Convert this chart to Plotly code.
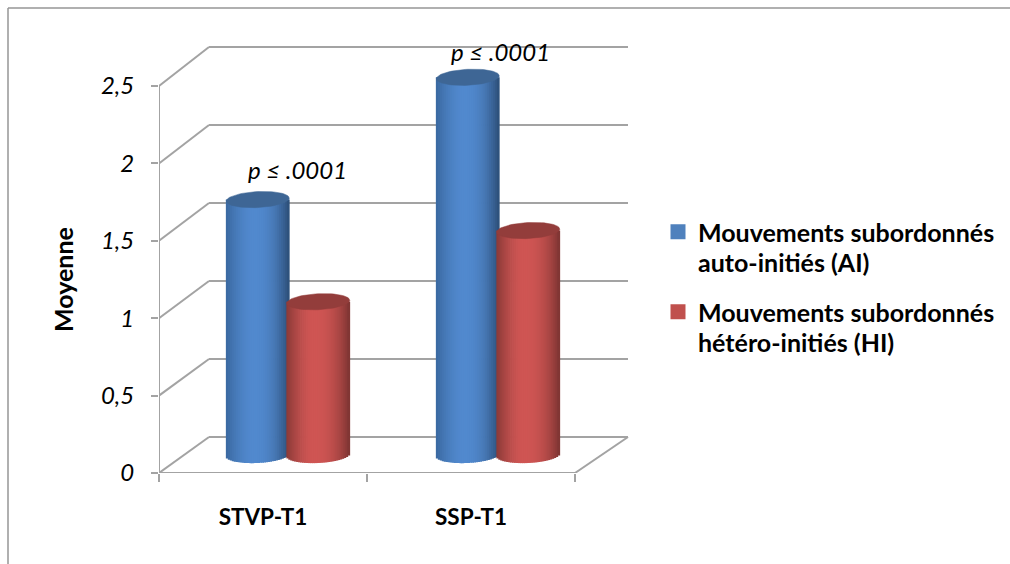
import math
import plotly.graph_objects as go

# ---- data ----
categories = ["STVP-T1", "SSP-T1"]
series_ai = [1.65, 2.44]
series_hi = [0.99, 1.45]
name_ai = ["Mouvements subordonnés", "auto-initiés (AI)"]
name_hi = ["Mouvements subordonnés", "hétéro-initiés (HI)"]
y_ticks = [0, 0.5, 1, 1.5, 2, 2.5]
y_labels = ["0", "0,5", "1", "1,5", "2", "2,5"]
p_text = ["p ≤ .0001", "p ≤ .0001"]

# ---- geometry of the pseudo-3D box, in pixels ----
W, H = 1010, 564
L, R, T, B = 159, 630, 45, 473
PX_X = 208.0          # pixels per category
PX_Y = 154.8          # pixels per unit of value
DX = 50 / PX_X        # depth shift in x data units
DX_R = 53 / PX_X      # the right-hand end of the box recedes slightly further
DY = 36 / PX_Y        # depth shift in y data units
BACK_SCALE = 78 / 77.4
BAR_W = 63 / PX_X
BAR_OFF = 60.5 / PX_X / 2
RX = BAR_W / 2
RY = 8 / PX_Y
TILT = 1.5 / PX_Y
N_STRIPS = 32
GRID = "#a3a3a3"
FONT = "Lato, sans-serif"


def lerp_hex(a, b, t):
    ca = [int(a[i:i + 2], 16) for i in (1, 3, 5)]
    cb = [int(b[i:i + 2], 16) for i in (1, 3, 5)]
    return "#" + "".join(f"{round(x + (y - x) * t):02x}" for x, y in zip(ca, cb))


def shade(u, left, mid, right):
    c = -0.1
    if u < c:
        t = (u + 1) / (c + 1)
        return lerp_hex(left, mid, math.sin(t * math.pi / 2))
    t = (u - c) / (1 - c)
    return lerp_hex(mid, right, t ** 2.2)


fig = go.Figure()
cat_pos = [i + 0.5 for i in range(len(categories))]
# perspective spreads the cylinders a little more than the axis ticks
bar_pos = [c + DX / 2 + s for c, s in zip(cat_pos, (0, 2 / PX_X))]


def cylinder(values, sign, left, mid, right, cap):
    for k in range(N_STRIPS):
        u = -1 + (k + 0.5) * 2 / N_STRIPS
        xs = [c + sign * BAR_OFF + u * RX for c in bar_pos]
        bottom = DY / 2 - RY * math.sqrt(1 - u * u) + TILT * u
        fig.add_trace(go.Bar(
            x=xs, y=[v + DY / 2 - bottom for v in values], base=bottom,
            width=BAR_W / N_STRIPS * 1.4,
            marker=dict(color=shade(u, left, mid, right), line=dict(width=0)),
            showlegend=False, hoverinfo="skip"))
    for c, v in zip(bar_pos, values):
        cx = c + sign * BAR_OFF
        cy = v + DY / 2
        ts = [i * 2 * math.pi / 72 for i in range(73)]
        fig.add_trace(go.Scatter(
            x=[cx + RX * math.cos(t) for t in ts],
            y=[cy + RY * math.sin(t) + TILT * math.cos(t) for t in ts],
            mode="lines", fill="toself", fillcolor=cap,
            line=dict(width=0.5, color=cap), showlegend=False, hoverinfo="skip"))


cylinder(series_ai, -1, "#3a689f", "#5189ce", "#2c4e78", "#3e6695")
cylinder(series_hi, +1, "#8a3a38", "#cf5553", "#7c3432", "#933d3b")


# outer frame and legend positions, given in page pixels
def pgx(px):
    return (px - L) / (R - L)


def pgy(py):
    return (B - py) / (B - T)


# legend: one small legend per text line, so the swatch stays on the first line
legend_layout = {}
legend_lines = ((name_ai[0], "#4f81bd", 232), (name_ai[1], "rgba(255,255,255,0)", 262),
                (name_hi[0], "#c0504d", 312), (name_hi[1], "rgba(255,255,255,0)", 342))
for i, (nm, col, line_y) in enumerate(legend_lines):
    key = "legend" if i == 0 else f"legend{i + 1}"
    fig.add_trace(go.Scatter(x=[None], y=[None], mode="markers", name=nm, legend=key,
                             showlegend=True,
                             marker=dict(symbol="square", size=15, color=col,
                                         line=dict(width=0))))
    legend_layout[key] = dict(x=pgx(658), xanchor="left", y=pgy(line_y), yanchor="middle",
                              font=dict(size=25, weight="bold", color="black"),
                              itemwidth=30, bgcolor="rgba(0,0,0,0)")

# ---- box: back wall, side wall, floor ----
shapes = []


def seg(x0, y0, x1, y1, color=GRID, width=2):
    shapes.append(dict(type="line", xref="x", yref="y", x0=x0, y0=y0, x1=x1, y1=y1,
                       layer="below", line=dict(color=color, width=width)))


n = len(categories)
for v in y_ticks:
    back = v * BACK_SCALE + DY
    seg(0, v, DX, back)
    seg(DX, back, n + DX_R, back)
seg(0, 0, 0, y_ticks[-1])
seg(0, 0, n, 0)
seg(n, 0, n + DX_R, DY)

for x0, y0, x1, y1 in ((8, 8, W, 8), (8, 8, 8, H)):
    shapes.append(dict(type="line", xref="paper", yref="paper",
                       x0=pgx(x0), y0=pgy(y0), x1=pgx(x1), y1=pgy(y1),
                       line=dict(color="#969696", width=1.5)))

annotations = [
    dict(x=cat_pos[0] + 0.164, y=series_ai[0] + 0.313, text=p_text[0]),
    dict(x=cat_pos[1] + 0.142, y=series_ai[1] + 0.286, text=p_text[1]),
]
for a in annotations:
    a.update(xref="x", yref="y", showarrow=False,
             font=dict(family=FONT, size=24, style="italic", color="black"))
annotations.append(dict(xref="paper", yref="paper", x=pgx(63), y=pgy(280), text="Moyenne",
                        textangle=-90, showarrow=False, xanchor="center", yanchor="middle",
                        font=dict(family=FONT, size=25, weight="bold", color="black")))

fig.update_layout(
    width=W, height=H, margin=dict(l=L, r=W - R, t=T, b=H - B, pad=0, autoexpand=False),
    paper_bgcolor="white", plot_bgcolor="white", barmode="overlay",
    font=dict(family=FONT, color="black"),
    shapes=shapes, annotations=annotations, hovermode=False,
    xaxis=dict(
        range=[0, (R - L) / PX_X], showgrid=False, zeroline=False, showline=False,
        tickmode="array", tickvals=cat_pos, ticktext=categories, ticks="",
        tickfont=dict(size=22.5, weight="bold"), ticklabelstandoff=28,
        minor=dict(tickmode="array", tickvals=list(range(n + 1)), ticks="outside",
                   ticklen=8, tickwidth=2, tickcolor=GRID, showgrid=False),
    ),
    yaxis=dict(
        range=[0, (B - T) / PX_Y], showgrid=False, zeroline=False, showline=False,
        tickmode="array", tickvals=y_ticks, ticktext=y_labels, ticks="outside",
        ticklen=7, tickwidth=2, tickcolor=GRID,
        tickfont=dict(size=24, style="italic"), ticklabelstandoff=12,
    ),
    **legend_layout,
)

fig.write_html("out.html", config={"displayModeBar": False},
               post_script="document.body.style.margin='0';")
